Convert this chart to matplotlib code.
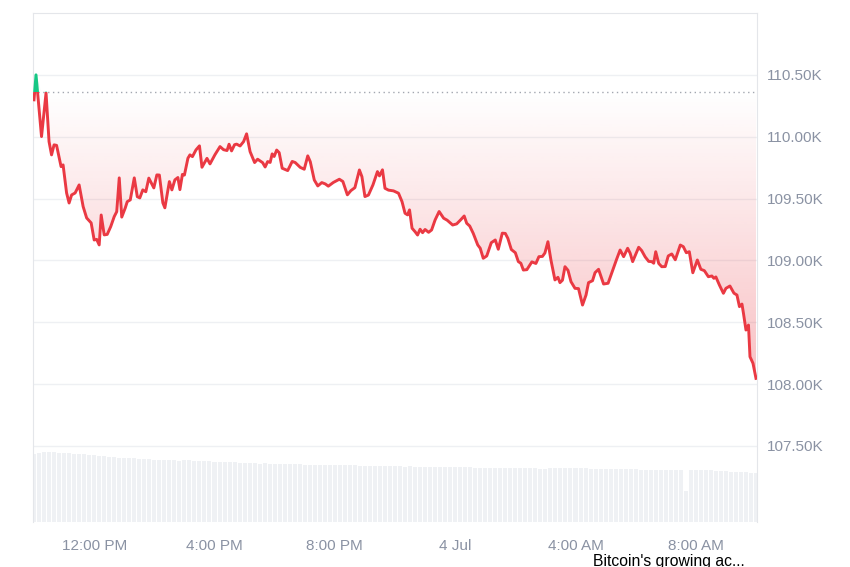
"""
BTC 24h price chart (3-4 Jul) with volume bars -> out.png
"""

import numpy as np
import pandas as pd
import matplotlib
matplotlib.use("Agg")
import matplotlib.pyplot as plt
import matplotlib.dates as mdates
from matplotlib.patches import Rectangle

START = pd.Timestamp("2025-07-03 10:00")

# minutes after START, price in USD
minutes = [
    0, 4, 15, 24, 30, 35, 40, 45, 54, 58, 65, 70, 75, 82, 90, 98, 105, 114,
    120, 125, 130, 134, 140, 146, 153, 160, 165, 170, 175, 182, 186, 192, 195,
    200, 206, 211, 217, 223, 229, 239, 245, 250, 257, 261, 270, 275, 281, 287,
    291, 296, 300, 307, 311, 316, 323, 330, 335, 345, 351, 361, 371, 378, 385,
    389, 394, 400, 404, 411, 418, 424, 431, 440, 446, 456, 461, 466, 471, 475,
    479, 484, 489, 495, 506, 515, 521, 531, 539, 546, 551, 559, 566, 574, 581,
    587, 597, 609, 616, 625, 632, 640, 649, 654, 660, 667, 676, 685, 689, 695,
    700, 707, 717, 727, 734, 740, 745, 749, 754, 760, 765, 770, 775, 780, 787,
    793, 800, 808, 817, 824, 835, 843, 851, 858, 863, 869, 876, 885, 890, 896,
    903, 912, 920, 926, 934, 940, 945, 952, 960, 966, 971, 976, 983, 993, 1001,
    1007, 1014, 1019, 1025, 1031, 1039, 1045, 1049, 1054, 1059, 1065, 1071,
    1079, 1086, 1094, 1101, 1106, 1114, 1119, 1126, 1136, 1145, 1152, 1162,
    1169, 1176, 1184, 1189, 1194, 1206, 1212, 1219, 1226, 1232, 1236, 1240,
    1246, 1252, 1259, 1265, 1272, 1279, 1289, 1295, 1301, 1307, 1314, 1323,
    1330, 1337, 1345, 1352, 1356, 1360, 1367, 1375, 1380, 1388, 1396, 1402,
    1407, 1412, 1415, 1420, 1425, 1428, 1434, 1440,
]
prices = [
    110298, 110500, 110001, 110354, 109960, 109853, 109934, 109930, 109758,
    109772, 109545, 109464, 109529, 109545, 109610, 109435, 109343, 109303,
    109165, 109170, 109125, 109367, 109206, 109210, 109273, 109354, 109394,
    109667, 109350, 109424, 109475, 109489, 109556, 109667, 109515, 109505,
    109570, 109555, 109665, 109586, 109691, 109690, 109465, 109425, 109637,
    109570, 109651, 109670, 109572, 109695, 109690, 109826, 109853, 109839,
    109893, 109926, 109753, 109825, 109780, 109855, 109920, 109895, 109888,
    109939, 109885, 109935, 109940, 109925, 109960, 110023, 109879, 109791,
    109818, 109790, 109755, 109799, 109792, 109861, 109840, 109892, 109871,
    109745, 109726, 109800, 109791, 109752, 109737, 109845, 109798, 109650,
    109602, 109629, 109618, 109600, 109630, 109656, 109638, 109530, 109564,
    109588, 109731, 109677, 109516, 109528, 109610, 109718, 109683, 109732,
    109583, 109568, 109562, 109543, 109475, 109381, 109368, 109408, 109260,
    109232, 109205, 109252, 109224, 109250, 109227, 109246, 109327, 109395,
    109341, 109325, 109286, 109295, 109328, 109359, 109300, 109278, 109219,
    109125, 109098, 109017, 109036, 109143, 109165, 109090, 109220, 109218,
    109179, 109088, 109062, 108990, 108977, 108922, 108925, 108988, 108975,
    109030, 109032, 109060, 109151, 109003, 108842, 108863, 108820, 108840,
    108949, 108920, 108828, 108774, 108772, 108639, 108720, 108820, 108836,
    108901, 108928, 108809, 108815, 108896, 109009, 109084, 109030, 109098,
    109058, 108990, 109106, 109079, 109028, 108992, 108990, 108977, 109070,
    108975, 108949, 108950, 109036, 109052, 109005, 109124, 109111, 109062,
    109070, 108900, 109003, 108928, 108917, 108868, 108874, 108855, 108866,
    108801, 108734, 108774, 108793, 108735, 108720, 108626, 108647, 108572,
    108437, 108477, 108221, 108168, 108046,
]
BASELINE = 110360  # price 24h ago (dotted line)

# 24h volume, one bar every 10 minutes (billions USD)
volumes = [
    35.2, 35.5, 35.8, 35.9, 35.9, 35.7,
    35.6, 35.4, 35.2, 35.0, 34.8, 34.5,
    34.3, 34.1, 33.8, 33.6, 33.5, 33.2,
    33.0, 32.9, 32.8, 32.6, 32.5, 32.3,
    32.1, 32.0, 31.9, 31.7, 31.7, 31.5,
    31.8, 32.0, 31.6, 31.5, 31.4, 31.2,
    31.1, 31.1, 30.9, 30.8, 30.8, 30.6,
    30.5, 30.4, 30.2, 30.1, 30.2, 30.0,
    30.0, 29.9, 29.9, 29.8, 29.7, 29.7,
    29.6, 29.6, 29.5, 29.5, 29.4, 29.4,
    29.3, 29.3, 29.2, 29.1, 29.1, 29.0,
    28.9, 28.9, 28.8, 28.8, 28.7, 28.7,
    28.6, 28.6, 28.5, 28.6, 28.5, 28.4,
    28.4, 28.3, 28.4, 28.3, 28.2, 28.3,
    28.2, 28.2, 28.1, 28.1, 28.0, 28.0,
    28.0, 27.9, 27.9, 27.9, 27.8, 27.8,
    27.7, 27.8, 27.7, 27.6, 27.6, 27.5,
    27.5, 27.6, 27.7, 27.8, 27.8, 27.7,
    27.7, 27.6, 27.6, 27.5, 27.5, 27.4,
    27.4, 27.3, 27.3, 27.2, 27.2, 27.1,
    27.1, 27.0, 27.0, 26.9, 26.9, 26.8,
    26.8, 26.7, 26.7, 26.6, 16.0, 27.0,
    27.0, 26.9, 26.8, 26.6, 26.5, 26.4,
    26.2, 26.0, 25.9, 25.7, 25.6, 25.4,
    25.2,
]

y_ticks = [107500, 108000, 108500, 109000, 109500, 110000, 110500]
x_ticks = ["2025-07-03 12:00", "2025-07-03 16:00", "2025-07-03 20:00",
           "2025-07-04 00:00", "2025-07-04 04:00", "2025-07-04 08:00"]

RED = "#ea3943"
GREEN = "#16c784"
GRID = "#eef0f3"
TEXT = "#8a92a3"


def fmt_time(x, pos=None):
    d = mdates.num2date(x)
    if d.hour == 0 and d.minute == 0:
        return f"{d.day} {d.strftime('%b')}"
    return d.strftime("%I:%M %p").lstrip("0")


def gradient(ax, color, a_top, a_bottom, extent, clip):
    rgb = matplotlib.colors.to_rgb(color)
    img = np.zeros((256, 1, 4))
    img[:, 0, :3] = rgb
    img[:, 0, 3] = np.linspace(a_bottom, a_top, 256)
    im = ax.imshow(img, extent=extent, origin="lower", aspect="auto",
                   interpolation="bilinear", zorder=1)
    im.set_clip_path(clip.get_paths()[0], ax.transData)


def main():
    plt.rcParams["font.family"] = ["Liberation Sans", "DejaVu Sans"]

    t = mdates.date2num(START + pd.to_timedelta(minutes, unit="m"))
    p = np.array(prices, dtype=float)
    x0 = mdates.date2num(START - pd.Timedelta(minutes=2))
    x1 = mdates.date2num(START + pd.Timedelta(minutes=1442))
    y0, y1 = 106885, 111000

    fig = plt.figure(figsize=(8.5, 5.67), dpi=100)
    ax = fig.add_axes([33 / 850, 1 - 522 / 567, 724 / 850, 509 / 567])

    # --- volume bars behind the price ---
    vax = ax.twinx()
    vt = mdates.date2num(START + pd.to_timedelta(np.arange(len(volumes)) * 10, unit="m"))
    vax.bar(vt, volumes, width=8 / 1440, color="#eff1f4", linewidth=0)
    vax.set_ylim(0, max(volumes) * 7.3)
    vax.set_yticks([])
    for s in vax.spines.values():
        s.set_visible(False)
    vax.set_zorder(ax.get_zorder() - 1)
    ax.patch.set_visible(False)

    # --- gradient fill between the line and the baseline ---
    below = ax.fill_between(t, np.minimum(p, BASELINE), BASELINE, color="none")
    gradient(ax, RED, 0.0, 0.135 * (BASELINE - p.min()) / 1000,
             [t[0], t[-1], p.min(), BASELINE], below)
    above = ax.fill_between(t, BASELINE, np.maximum(p, BASELINE), color="none")
    gradient(ax, GREEN, 0.2, 0.0, [t[0], t[-1], BASELINE, p.max()], above)

    ax.axhline(BASELINE, color="#a3a7b0", lw=1, ls=(0, (1, 2.5)), zorder=2)

    # --- price line, green above the baseline, red below ---
    red, = ax.plot(t, p, color=RED, lw=2.1, solid_joinstyle="round", zorder=3)
    red.set_clip_path(Rectangle((x0, y0), x1 - x0, BASELINE - y0, transform=ax.transData))
    green, = ax.plot(t, p, color=GREEN, lw=2.1, solid_joinstyle="round", zorder=3)
    green.set_clip_path(Rectangle((x0, BASELINE), x1 - x0, y1 - BASELINE, transform=ax.transData))

    ax.set_xlim(x0, x1)
    ax.set_ylim(y0, y1)
    ax.set_yticks(y_ticks)
    ax.set_yticklabels([f"{v / 1000:.2f}K" for v in y_ticks])
    ax.yaxis.tick_right()
    ax.set_xticks(mdates.date2num(pd.to_datetime(x_ticks)))
    ax.xaxis.set_major_formatter(plt.FuncFormatter(fmt_time))
    ax.tick_params(axis="both", length=0, labelsize=11, labelcolor=TEXT)
    ax.tick_params(axis="y", pad=7)
    ax.tick_params(axis="x", pad=12)
    ax.grid(axis="y", color=GRID, lw=1, zorder=0)
    ax.set_axisbelow(True)
    for side in ["left", "top", "right"]:
        ax.spines[side].set_color("#e4e6ea")
    ax.spines["bottom"].set_visible(False)

    fig.text(593 / 850, 1 - 554 / 567, "Bitcoin's growing ac...",
             fontsize=11.3, color="black", va="top", ha="left")

    fig.savefig("out.png", dpi=100)
    plt.close(fig)


if __name__ == "__main__":
    main()
